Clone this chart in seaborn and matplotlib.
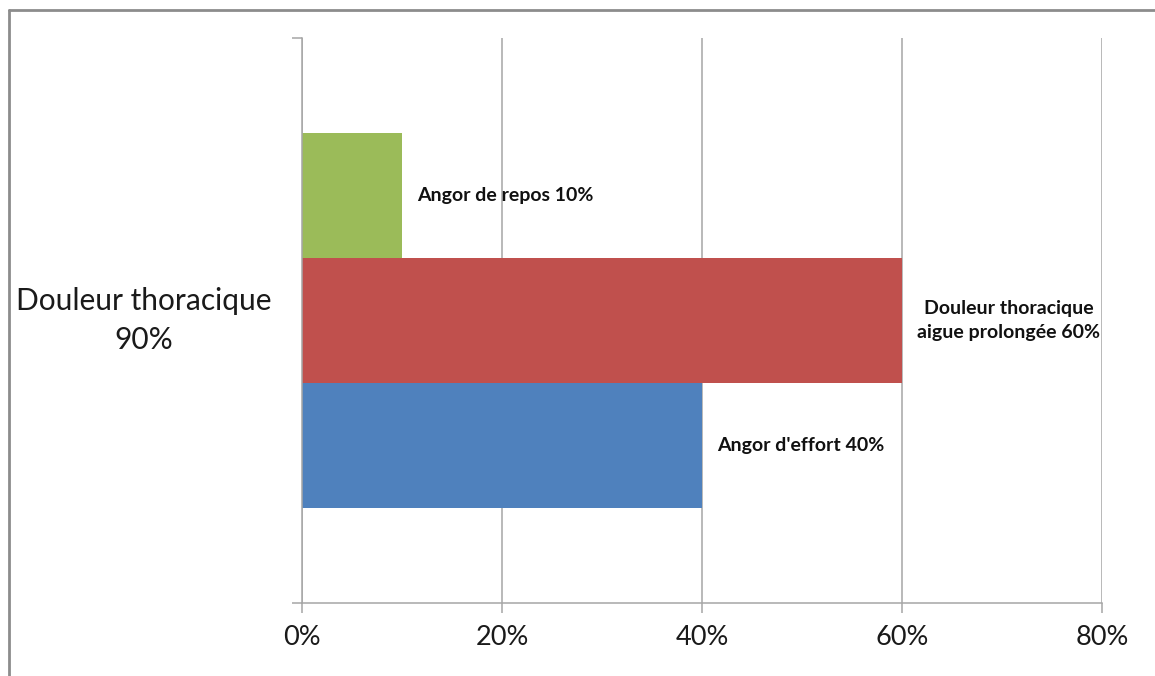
import matplotlib
matplotlib.use("Agg")
import matplotlib.pyplot as plt
from matplotlib.lines import Line2D
from matplotlib.ticker import FixedLocator, PercentFormatter
import seaborn as sns
import pandas as pd

# ---- data ----
categories = ["Douleur thoracique\n90%"]
series = ["Angor de repos", "Douleur thoracique aigue prolongée", "Angor d'effort"]
values = [10, 60, 40]
bar_labels = ["Angor de repos 10%", "Douleur thoracique\naigue prolongée 60%", "Angor d'effort 40%"]
colors = ["#9BBB59", "#C0504D", "#4F81BD"]
x_ticks = [0, 20, 40, 60, 80]

df = pd.DataFrame({
    "category": categories * len(series),
    "series": series,
    "value": values,
})

sns.set_theme(style="white")
plt.rcParams["font.family"] = ["Lato", "DejaVu Sans"]

fig = plt.figure(figsize=(11.55, 6.76), dpi=100)
ax = fig.add_axes([302 / 1155, 73 / 676, 800 / 1155, 565 / 676])

sns.barplot(data=df, x="value", y="category", hue="series", hue_order=series,
            palette=colors, orient="h", width=0.664, saturation=1,
            legend=False, ax=ax, linewidth=0, edgecolor="none")

ax.set_xlim(0, 80)
ax.set_ylim(0.5, -0.5)
ax.set_xlabel("")
ax.set_ylabel("")

grid_c = "#A6A6A6"
ax.xaxis.set_major_locator(FixedLocator(x_ticks))
ax.xaxis.set_major_formatter(PercentFormatter(decimals=0))
ax.grid(axis="x", color=grid_c, linewidth=1.1)
ax.grid(axis="y", visible=False)
ax.set_axisbelow(True)

for s in ["top", "right"]:
    ax.spines[s].set_visible(False)
for s in ["left", "bottom"]:
    ax.spines[s].set_color(grid_c)
    ax.spines[s].set_linewidth(1.1)

ax.tick_params(axis="x", direction="out", length=7, width=1.1, color=grid_c,
               labelsize=19.5, labelcolor="#1a1a1a", pad=9, bottom=True)
ax.tick_params(axis="y", which="major", length=0, labelsize=21.5,
               labelcolor="#1a1a1a", pad=22)
ax.yaxis.set_minor_locator(FixedLocator([-0.5, 0.5]))
ax.tick_params(axis="y", which="minor", direction="out", length=7, width=1.1,
               color=grid_c, left=True)
for lbl in ax.get_yticklabels():
    lbl.set_multialignment("center")
    lbl.set_verticalalignment("center")
    lbl.set_linespacing(1.5)

for cont, txt in zip(ax.containers, bar_labels):
    texts = ax.bar_label(cont, labels=[txt], padding=11, fontsize=14,
                         fontweight="bold", color="#111111")
    for t in texts:
        t.set_multialignment("center")
        t.set_linespacing(1.55)

# outer chart border (top and left edges visible)
bc = "#8C8C8C"
fig.add_artist(Line2D([9 / 1155, 9 / 1155], [0, 1 - 10 / 676],
                      transform=fig.transFigure, color=bc, linewidth=2))
fig.add_artist(Line2D([9 / 1155, 1], [1 - 10 / 676, 1 - 10 / 676],
                      transform=fig.transFigure, color=bc, linewidth=2))

fig.savefig("out.png", dpi=100, facecolor="white")
